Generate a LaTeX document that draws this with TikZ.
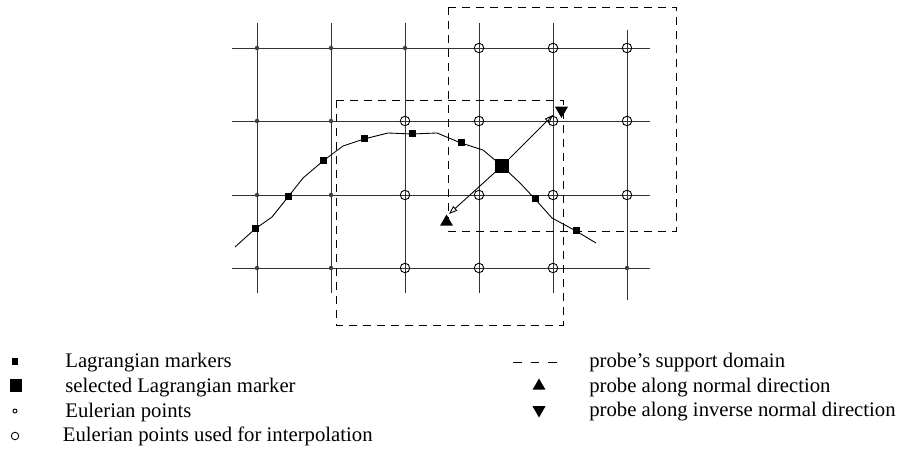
\documentclass[tikz,border=0pt]{standalone}
\usepackage{fontspec}
\setmainfont{Liberation Serif}
\usetikzlibrary{arrows.meta,shapes.geometric}

\tikzset{
  gridline/.style={black!80, line width=0.45pt},
  eulerpt/.style={circle, fill=black!75, inner sep=0pt, minimum size=0.09cm},
  interppt/.style={circle, draw, inner sep=0pt, minimum size=0.19cm, line width=0.5pt},
  lagmark/.style={rectangle, fill, inner sep=0pt, minimum size=0.14cm},
  selmark/.style={rectangle, fill, inner sep=0pt, minimum size=0.27cm},
  supportbox/.style={line width=0.55pt, dash pattern=on 0.16cm off 0.12cm},
  probeup/.style={regular polygon, regular polygon sides=3, fill, inner sep=0pt, minimum size=0.3cm},
  probedown/.style={probeup, shape border rotate=180},
  probearrow/.style={line width=0.5pt, -{Triangle[open,length=0.17cm,width=0.12cm]}},
  legendtext/.style={anchor=base west, inner sep=0pt, font=\fontsize{11.8}{14}\selectfont}
}

\begin{document}
\begin{tikzpicture}[x=0.02cm,y=-0.02cm]
\useasboundingbox (0,0) rectangle (900,452);

% grid
\foreach \gx in {257,331,405,479,553}
  \draw[gridline] (\gx,23) -- (\gx,293);
\draw[gridline] (627,30) -- (627,300);
\foreach \gy in {48,121,195,268}
  \draw[gridline] (232,\gy) -- (650,\gy);

% Eulerian points
\foreach \px/\py/\nm in {257/48/e1,331/48/e2,405/48/e3,257/121/e4,331/121/e5,
  257/195/e6,331/195/e7,257/268/e8,331/268/e9,627/268/e10}
  \node[eulerpt] (\nm) at (\px,\py) {};
\foreach \px/\py/\nm in {479/48/c1,553/48/c2,627/48/c3,405/121/c4,479/121/c5,
  553/121/c6,627/121/c7,405/195/c8,479/195/c9,553/195/c10,627/195/c11,
  405/268/c12,479/268/c13,553/268/c14}
  \node[interppt] (\nm) at (\px,\py) {};

% support domains
\draw[supportbox] (336,100) rectangle (563,325);
\draw[supportbox] (448,7) rectangle (676,231);

% Lagrangian markers
\node[lagmark] (m1) at (255,229) {};
\node[lagmark] (m2) at (288,197) {};
\node[lagmark] (m3) at (323,161) {};
\node[lagmark] (m4) at (364,139) {};
\node[lagmark] (m5) at (412,134) {};
\node[lagmark] (m6) at (461,143) {};
\node[selmark] (sel) at (502,166) {};
\node[lagmark] (m7) at (535,199) {};
\node[lagmark] (m8) at (576,231) {};

% interface
\draw[line width=0.5pt] (235,247) -- (m1.center) -- (272,217) -- (m2.center)
  -- (303,178) -- (m3.center) -- (343,146) -- (m4.center) -- (388,133)
  -- (m5.center) -- (437,133) -- (m6.center) -- (483,150) -- (sel.center)
  -- (520,183) -- (m7.center) -- (552,218) -- (m8.center) -- (596,243);

% probes
\coordinate (tipn) at (449,214);
\coordinate (tipi) at (553,115);
\draw[probearrow] (sel) -- (tipn);
\draw[probearrow] (sel) -- (tipi);
\node[probeup] (pn) at (446.5,222) {};
\node[probedown] (pi) at (561.5,110.5) {};

% legend
\node[lagmark] (lg1) at (15,362) {};
\node[selmark, minimum size=0.26cm] (lg2) at (16,386) {};
\node[circle, draw, inner sep=0pt, minimum size=0.08cm, line width=0.5pt] (lg3) at (15,411) {};
\node[circle, draw, inner sep=0pt, minimum size=0.15cm, line width=0.5pt] (lg4) at (15,436) {};
\node[legendtext] (t1) at (65,368) {Lagrangian markers};
\node[legendtext] (t2) at (65,393) {selected Lagrangian marker};
\node[legendtext] (t3) at (65,417.5) {Eulerian points};
\node[legendtext] (t4) at (62.5,442) {Eulerian points used for interpolation};

\coordinate (ld1) at (513,362);
\coordinate (ld2) at (561,362);
\draw[line width=0.5pt, dash pattern=on 0.18cm off 0.17cm] (ld1) -- (ld2);
\node[probeup] (lg5) at (539,386) {};
\node[probedown] (lg6) at (539,410) {};
\node[legendtext] (t5) at (589,368) {probe’s support domain};
\node[legendtext] (t6) at (589,392.5) {probe along normal direction};
\node[legendtext] (t7) at (589,417) {probe along inverse normal direction};
\end{tikzpicture}
\end{document}
